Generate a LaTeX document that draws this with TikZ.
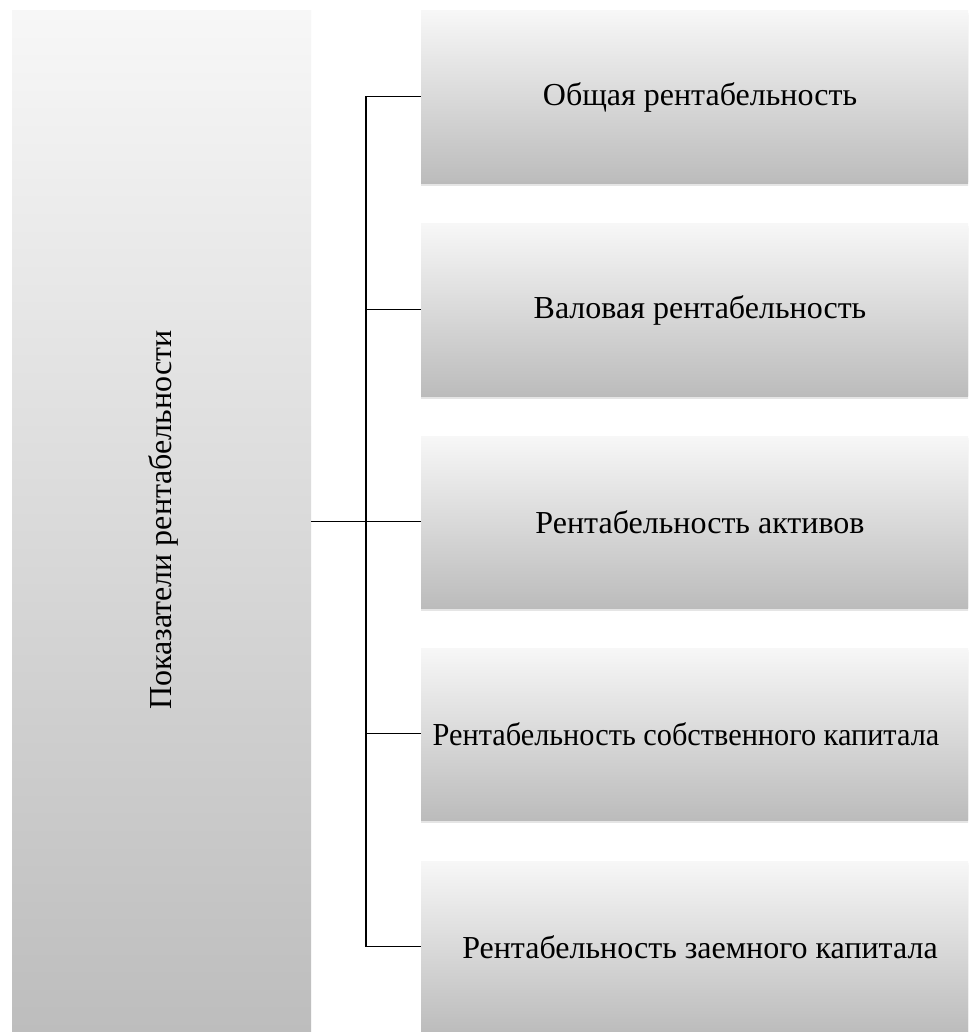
\documentclass[tikz,border=0pt]{standalone}
\usepackage{fontspec}
\setmainfont{Liberation Serif}
\usetikzlibrary{shadows}
\definecolor{gtop}{HTML}{F7F7F7}
\definecolor{gbot}{HTML}{BCBCBC}
\begin{document}
\begin{tikzpicture}[x=1pt,y=-1pt,
  box/.style={draw=none, inner sep=0pt, outer sep=0pt, anchor=north west,
    top color=gtop, bottom color=gbot,
    drop shadow={shadow xshift=0pt, shadow yshift=-4pt, opacity=0.10, fill=black},
    drop shadow={shadow xshift=0pt, shadow yshift=-2pt, opacity=0.18, fill=black}},
  rbox/.style={box, minimum width=570pt, minimum height=171pt},
  lbl/.style={font=\fontsize{32}{38}\selectfont, text=black, inner sep=0pt},
  conn/.style={draw=black, line width=1.8pt}]
\path[use as bounding box] (0,0) rectangle (968,1032);
\clip (0,0) rectangle (968,1032);
\fill[white] (0,0) rectangle (968,1032);
% left box
\node[box, minimum width=299pt, minimum height=1040pt] (L) at (12,11) {};
\node[lbl, rotate=90] (Lt) at (163,520) {Показатели рентабельности};
% right boxes
\node[rbox] (B1) at (421,11) {};
\node[rbox] (B2) at (421,224) {};
\node[rbox] (B3) at (421,436) {};
\node[rbox] (B4) at (421,648) {};
\node[rbox] (B5) at (421,861) {};
\node[lbl] (T1) at (700,97) {Общая рентабельность};
\node[lbl] (T2) at (700,310) {Валовая рентабельность};
\node[lbl] (T3) at (700,522) {Рентабельность активов};
\node[lbl] (T4) at (686,734) {\scalebox{0.947}[1]{Рентабельность собственного капитала}};
\node[lbl] (T5) at (700,947) {Рентабельность заемного капитала};
% connectors
\coordinate (J) at (366,521.5);
\draw[conn] (L.east |- J) -- (J);
\draw[conn] (B1.west -| J) -- (B5.west -| J);
\foreach \b in {B1,B2,B3,B4,B5}{
  \draw[conn] (\b.west -| J) -- (\b.west);
}
\end{tikzpicture}
\end{document}
